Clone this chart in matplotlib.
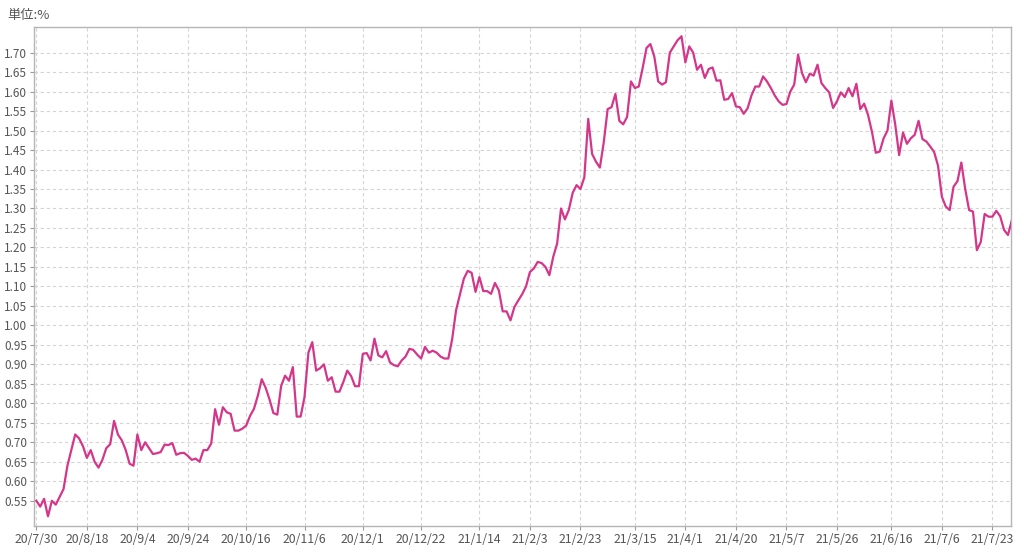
import matplotlib
matplotlib.use('Agg')
import matplotlib.pyplot as plt

plt.rcParams['font.family'] = ['Noto Sans CJK JP', 'DejaVu Sans']

# daily yield (%), one value per trading day from 20/7/30
yields = [
    0.55, 0.535, 0.555, 0.51, 0.55, 0.54, 0.56, 0.58, 0.64, 0.68,
    0.72, 0.71, 0.69, 0.66, 0.68, 0.65, 0.635, 0.655, 0.685, 0.695,
    0.755, 0.72, 0.705, 0.68, 0.645, 0.64, 0.72, 0.68, 0.70, 0.685,
    0.67, 0.672, 0.675, 0.694, 0.693, 0.698, 0.668, 0.672, 0.673, 0.665,
    0.655, 0.658, 0.65, 0.68, 0.68, 0.697, 0.785, 0.745, 0.79, 0.777,
    0.773, 0.73, 0.73, 0.735, 0.743, 0.768, 0.786, 0.82, 0.862, 0.84,
    0.81, 0.775, 0.771, 0.845, 0.871, 0.858, 0.893, 0.766, 0.766, 0.816,
    0.93, 0.957, 0.884, 0.89, 0.90, 0.858, 0.867, 0.83, 0.83, 0.855,
    0.884, 0.87, 0.844, 0.844, 0.927, 0.929, 0.91, 0.966, 0.923, 0.918,
    0.934, 0.905, 0.898, 0.895, 0.91, 0.92, 0.94, 0.937, 0.925, 0.915,
    0.945, 0.93, 0.935, 0.93, 0.92, 0.915, 0.915, 0.965, 1.039, 1.08,
    1.12, 1.14, 1.135, 1.086, 1.124, 1.088, 1.088, 1.081, 1.109, 1.09,
    1.036, 1.036, 1.013, 1.047, 1.064, 1.08, 1.10, 1.137, 1.146, 1.163,
    1.16, 1.15, 1.129, 1.176, 1.21, 1.30, 1.272, 1.296, 1.34, 1.36,
    1.35, 1.38, 1.53, 1.44, 1.42, 1.405, 1.47, 1.555, 1.56, 1.594,
    1.525, 1.516, 1.535, 1.626, 1.609, 1.613, 1.66, 1.712, 1.722, 1.69,
    1.626, 1.618, 1.624, 1.70, 1.716, 1.732, 1.742, 1.675, 1.716, 1.70,
    1.656, 1.669, 1.635, 1.658, 1.662, 1.628, 1.629, 1.579, 1.581, 1.596,
    1.562, 1.56, 1.543, 1.557, 1.59, 1.613, 1.613, 1.639, 1.626, 1.609,
    1.59, 1.575, 1.566, 1.568, 1.60, 1.618, 1.695, 1.648, 1.624, 1.646,
    1.641, 1.669, 1.622, 1.609, 1.598, 1.558, 1.575, 1.598, 1.586, 1.609,
    1.588, 1.62, 1.555, 1.569, 1.54, 1.497, 1.443, 1.446, 1.48, 1.50,
    1.577, 1.515, 1.437, 1.495, 1.466, 1.48, 1.489, 1.525, 1.478, 1.472,
    1.459, 1.445, 1.41, 1.33, 1.305, 1.296, 1.356, 1.37, 1.418, 1.35,
    1.296, 1.292, 1.193, 1.214, 1.286, 1.279, 1.279, 1.294, 1.28, 1.245,
    1.232, 1.27,
]

tick_pos = [0, 13, 26, 39, 54, 69, 84, 99, 114, 127, 140, 154, 167, 180, 193, 206, 220, 233, 246]
tick_labels = ['20/7/30', '20/8/18', '20/9/4', '20/9/24', '20/10/16', '20/11/6', '20/12/1',
               '20/12/22', '21/1/14', '21/2/3', '21/2/23', '21/3/15', '21/4/1', '21/4/20',
               '21/5/7', '21/5/26', '21/6/16', '21/7/6', '21/7/23']
y_ticks = [0.55, 0.60, 0.65, 0.70, 0.75, 0.80, 0.85, 0.90, 0.95, 1.00, 1.05, 1.10,
           1.15, 1.20, 1.25, 1.30, 1.35, 1.40, 1.45, 1.50, 1.55, 1.60, 1.65, 1.70]

fig = plt.figure(figsize=(10.24, 5.57), dpi=100)
ax = fig.add_axes([0.0332, 0.0562, 0.9538, 0.8948])

ax.plot(range(len(yields)), yields, color='#d4368a', linewidth=1.6, zorder=3)

ax.set_xlim(-0.6, 250.7)
ax.set_ylim(0.486, 1.765)
ax.set_xticks(tick_pos)
ax.set_xticklabels(tick_labels)
ax.set_yticks(y_ticks)
ax.set_yticklabels([f'{v:.2f}' for v in y_ticks])

ax.grid(True, color='#d4d4d4', linestyle=(0, (3, 2.5)), linewidth=0.8, zorder=0)
ax.tick_params(axis='both', colors='#999999', labelcolor='#555555', labelsize=8.8,
               length=3, width=0.8, direction='out', pad=2)
ax.tick_params(axis='y', labelsize=8.5)
for s in ax.spines.values():
    s.set_color('#b5b5b5')
    s.set_linewidth(1.0)

fig.text(0.007, 1 - 16 / 557, '単位:%', fontsize=9.5, color='#555555', va='center', ha='left')

plt.savefig('out.png', dpi=100)
plt.close()
